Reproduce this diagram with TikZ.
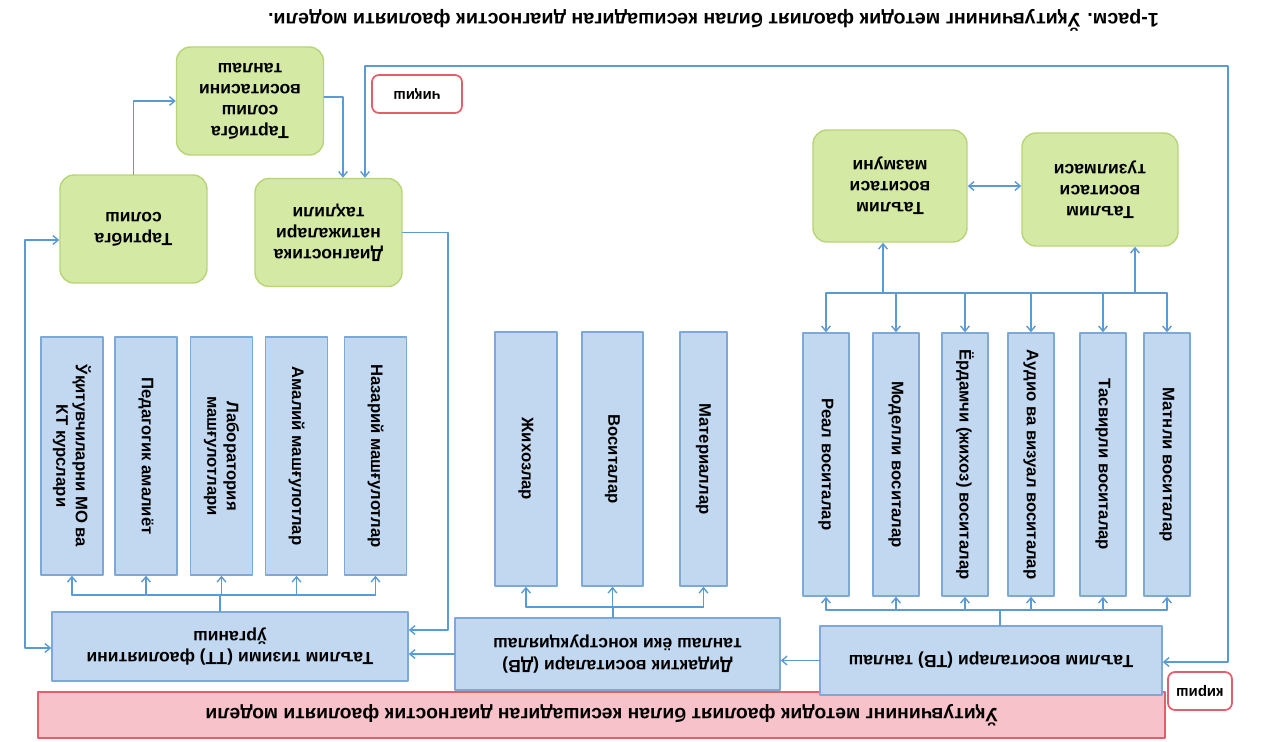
\documentclass[tikz,border=0pt]{standalone}
\usepackage{fontspec}
\setmainfont{Liberation Sans}
\usetikzlibrary{arrows.meta}
\definecolor{linkblue}{RGB}{91,155,213}
\definecolor{boxfill}{RGB}{193,216,240}
\definecolor{boxline}{RGB}{126,168,214}
\definecolor{greenfill}{RGB}{212,233,163}
\definecolor{greenline}{RGB}{184,212,120}
\definecolor{pinkfill}{RGB}{247,194,201}
\definecolor{redline}{RGB}{226,96,108}
\tikzset{
  hbox/.style={draw=boxline, fill=boxfill, line width=0.8pt, align=center, font=\bfseries, inner sep=2pt},
  vbox/.style={hbox, rotate=90, font=\bfseries\fontsize{9.5}{11}\selectfont},
  gbox/.style={draw=greenline, fill=greenfill, rounded corners=8pt, line width=0.8pt, align=center,
    font=\bfseries, minimum width=2.94cm, minimum height=2.16cm},
  redbox/.style={draw=redline, fill=white, rounded corners=4pt, line width=1pt, inner sep=1pt,
    font=\bfseries\fontsize{8.5}{10}\selectfont},
  link/.style={draw=linkblue, line width=0.8pt},
  arr/.style={link, -{Straight Barb[length=3pt,width=5pt]}},
  arrs/.style={link, {Straight Barb[length=3pt,width=5pt]}-{Straight Barb[length=3pt,width=5pt]}}
}

\begin{document}
\begin{tikzpicture}[line cap=round, line join=round]
  % the page is printed upside down
  \begin{scope}[rotate=180, transform shape]
    \useasboundingbox (0,0) rectangle (25.26,14.84);

    % Head bar and caption
    \node[draw=redline, fill=pinkfill, line width=0.8pt, minimum width=22.54cm, minimum height=0.92cm,
      font=\bfseries\fontsize{11}{13}\selectfont] (head) at (13.23,14.30)
      {Ўқитувчининг методик фаолият билан кесишадиган диагностик фаолияти модели};
    \node[anchor=west, font=\bfseries\fontsize{11.2}{13}\selectfont] (caption) at (1.96,0.40)
      {1-расм. Ўқитувчининг методик фаолият билан кесишадиган диагностик фаолияти модели.};

    % Selection boxes
    \node[hbox, minimum width=6.84cm, minimum height=1.38cm] (tv) at (5.44,13.21) {Таълим воситалари (ТВ) танлаш};
    \node[hbox, minimum width=6.50cm, minimum height=1.44cm] (dv) at (12.91,13.08) {Дидактик воситалари (ДВ)\\танлаш ёки конструкциялаш};
    \node[hbox, minimum width=7.12cm, minimum height=1.38cm] (tt) at (20.66,12.93) {Таълим тизими (ТТ) фаолиятини\\ўрганиш};
    \node[redbox, minimum width=1.28cm, minimum height=0.76cm] (kirish) at (1.26,13.82) {кириш};
    \node[redbox, minimum width=1.80cm, minimum height=0.76cm] (chiqish) at (16.92,1.88) {чиқиш};

    % Vertical boxes
    \foreach \n/\x/\t in {matn/1.92/Матнли воситалар, tasv/3.20/Тасвирли воситалар,
        audio/4.64/Аудио ва визуал воситалар, yord/5.96/Ёрдамчи (жихоз) воситалар,
        modl/7.34/Моделли воситалар, real/8.74/Реал воситалар}
      \node[vbox, minimum width=5.26cm, minimum height=0.92cm] (\n) at (\x,9.29) {\t};
    \foreach \n/\x/\w/\t in {mat/11.19/0.94/Материаллар, vos/13.01/1.22/Воситалар, jih/14.74/1.24/Жихозлар}
      \node[vbox, minimum width=5.08cm, minimum height=\w cm] (\n) at (\x,9.18) {\t};
    \foreach \n/\x/\t in {naz/17.75/Назарий машғулотлар, amal/19.33/Амалий машғулотлар,
        lab/20.83/Лаборатория\\машғулотлари, ped/22.34/Педагогик амалиёт,
        mo/23.82/Ўқитувчиларни МО ва\\КТ курслари}
      \node[vbox, minimum width=4.76cm, minimum height=1.24cm] (\n) at (\x,9.12) {\t};

    % Green boxes
    \node[gbox, minimum width=3.08cm, minimum height=2.24cm] (mazmun) at (7.46,3.72) {Таълим\\воситаси\\мазмуни};
    \node[gbox, minimum width=3.12cm, minimum height=2.26cm] (tuzilma) at (3.26,3.79) {Таълим\\воситаси\\тузилмаси};
    \node[gbox] (diag) at (18.69,4.65) {Диагностика\\натижалари\\таҳлили};
    \node[gbox] (tartib) at (22.59,4.58) {Тартибга\\солиш};
    \node[gbox] (tanlash) at (20.26,2.02) {Тартибга\\солиш\\воситасини\\танлаш};

    % Bus points
    \coordinate (tvbus) at (5.26,12.20);
    \coordinate (dvbus) at (13.00,12.14);
    \coordinate (ttbus) at (20.86,11.90);
    \coordinate (rbus) at (0,5.86);
    \coordinate (mzb) at (7.60,5.86);
    \coordinate (tzb) at (2.56,5.86);
    \coordinate (dtt) at (16.30,12.60);
    \coordinate (loopA) at (0.70,13.24);
    \coordinate (loopB) at (17.96,1.32);
    \coordinate (tdg) at (18.40,1.94);
    \coordinate (lp) at (24.76,12.96);
    \coordinate (lq) at (24.76,4.80);

    % Edges, right group
    \draw[link] (tv.south -| tvbus) -- (tvbus);
    \draw[link] (matn.east |- tvbus) -- (real.east |- tvbus);
    \draw[link] (matn.west |- rbus) -- (real.west |- rbus);
    \foreach \b in {matn,tasv,audio,yord,modl,real} {
        \draw[arr] (\b.east |- tvbus) -- (\b.east);
        \draw[arr] (\b.west |- rbus) -- (\b.west);
      }
    \draw[arr] (mzb) -- (mzb |- mazmun.north);
    \draw[arr] (tzb) -- (tzb |- tuzilma.north);
    \draw[arrs] (mazmun.west) -- (mazmun.west -| tuzilma.east);

    % Edges, middle and left groups
    \draw[link] (dv.south -| dvbus) -- (dvbus);
    \draw[link] (mat.east |- dvbus) -- (jih.east |- dvbus);
    \foreach \b in {mat,vos,jih}
      \draw[arr] (\b.east |- dvbus) -- (\b.east);
    \draw[link] (tt.south -| ttbus) -- (ttbus);
    \draw[link] (naz.east |- ttbus) -- (mo.east |- ttbus);
    \foreach \b in {naz,amal,lab,ped,mo}
      \draw[arr] (\b.east |- ttbus) -- (\b.east);

    % Edges between the main boxes
    \draw[arr] (tv.east) -- (tv.east -| dv.west);
    \draw[arr] (dv.east) -- (dv.east -| tt.west);
    \draw[arr] (diag.west) -| (dtt) -- (dtt -| tt.west);
    \draw[arrs] (tv.west |- loopA) -- (loopA) |- (loopB) -- (loopB |- diag.south);
    \draw[arr] (tanlash.west |- tdg) -- (tdg) -- (tdg |- diag.south);
    \draw[arr] (tartib.south) |- (tanlash.east);
    \draw[arrs] (tt.east |- lp) -- (lp) -- (lq) -- (lq -| tartib.east);
  \end{scope}
\end{tikzpicture}
\end{document}
